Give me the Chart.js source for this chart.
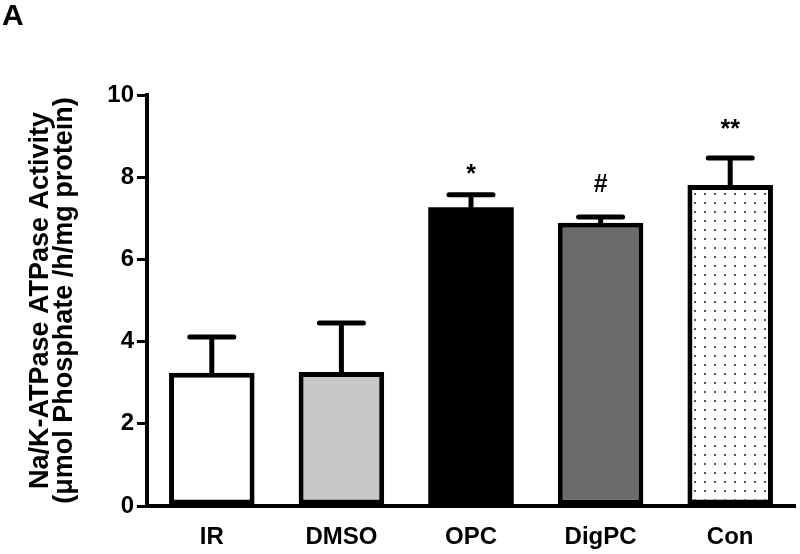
<!DOCTYPE html>
<html>
<head>
<meta charset="utf-8">
<script src="https://cdn.jsdelivr.net/npm/chart.js@4"></script>
<style>
  html, body { margin: 0; padding: 0; background: #fff; }
  #wrap { width: 800px; height: 554px; }
</style>
</head>
<body>
<div id="wrap"><canvas id="atpase-chart" width="800" height="554"></canvas></div>
<script>
// values
const groups = ['IR', 'DMSO', 'OPC', 'DigPC', 'Con'];
const activity = [3.24, 3.26, 7.27, 6.89, 7.81];
const sem = [0.87, 1.19, 0.30, 0.14, 0.66];
const marks = ['', '', '*', '#', '**'];
const yTicks = [0, 2, 4, 6, 8, 10];

const FONT = '"Liberation Sans", Arial, sans-serif';

// dotted fill for the control bar
function dots() {
    const c = document.createElement('canvas');
    c.width = 10;
    c.height = 9;
    const g = c.getContext('2d');
    g.fillStyle = '#fff';
    g.fillRect(0, 0, 10, 9);
    g.fillStyle = '#555';
    g.fillRect(4, 4, 2, 2);
    return g.createPattern(c, 'repeat');
}

const fills = ['#ffffff', '#c8c8c8', '#000000', '#6b6b6b', dots()];
// how far each significance mark sits above its cap
const markGap = { '*': 20, '#': 32, '**': 28 };

const errorBars = {
    id: 'errorBars',
    afterDatasetsDraw(chart) {
        const ctx = chart.ctx;
        const y = chart.scales.y;
        const meta = chart.getDatasetMeta(0);
        ctx.save();
        ctx.strokeStyle = '#000';
        ctx.lineWidth = 5;
        ctx.lineCap = 'round';
        meta.data.forEach((bar, i) => {
            const top = y.getPixelForValue(activity[i] + sem[i]);
            const base = y.getPixelForValue(activity[i]);
            ctx.beginPath();
            ctx.moveTo(bar.x, base);
            ctx.lineTo(bar.x, top);
            ctx.moveTo(bar.x - 22, top);
            ctx.lineTo(bar.x + 22, top);
            ctx.stroke();
            if (marks[i]) {
                ctx.fillStyle = '#000';
                ctx.font = 'bold 25px ' + FONT;
                ctx.textAlign = 'center';
                ctx.textBaseline = 'middle';
                ctx.fillText(marks[i], bar.x, top - markGap[marks[i]]);
            }
        });
        // panel letter
        ctx.fillStyle = '#000';
        ctx.font = 'bold 30px ' + FONT;
        ctx.textAlign = 'left';
        ctx.textBaseline = 'middle';
        ctx.fillText('A', 2, 17);
        ctx.restore();
    }
};

const ctx = document.getElementById('atpase-chart');

const chart = new Chart(ctx, {
    type: 'bar',
    data: {
        labels: groups,
        datasets: [{
            data: activity,
            backgroundColor: fills,
            borderColor: '#000',
            borderWidth: [5, 5, 0, 5, 5],
            borderSkipped: false,
            barPercentage: 0.66,
            categoryPercentage: 1.0
        }]
    },
    options: {
        responsive: false,
        animation: false,
        layout: {
            padding: { top: 95, right: 5, left: 0, bottom: 0 }
        },
        plugins: {
            legend: { display: false },
            tooltip: { enabled: false }
        },
        scales: {
            x: {
                grid: { display: false },
                border: { color: '#000', width: 4 },
                ticks: {
                    color: '#000',
                    padding: 9,
                    font: { family: FONT, size: 24, weight: 'bold' }
                },
                afterFit(scale) { scale.height = 48; }
            },
            y: {
                min: 0,
                max: 10,
                afterBuildTicks(scale) { scale.ticks = yTicks.map(v => ({ value: v })); },
                grid: {
                    drawOnChartArea: false,
                    drawTicks: true,
                    tickLength: 10,
                    color: '#000',
                    lineWidth: 3
                },
                border: { color: '#000', width: 4 },
                ticks: {
                    color: '#000',
                    padding: 3,
                    font: { family: FONT, size: 24, weight: 'bold' }
                },
                title: {
                    display: true,
                    text: ['Na/K-ATPase ATPase Activity', '(\u03bcmol Phosphate /h/mg protein)'],
                    color: '#000',
                    padding: { top: 29, bottom: 0 },
                    font: { family: FONT, size: 27, weight: 'bold', lineHeight: '24px' }
                },
                afterFit(scale) { scale.width = 147; }
            }
        }
    },
    plugins: [errorBars]
});
</script>
</body>
</html>
